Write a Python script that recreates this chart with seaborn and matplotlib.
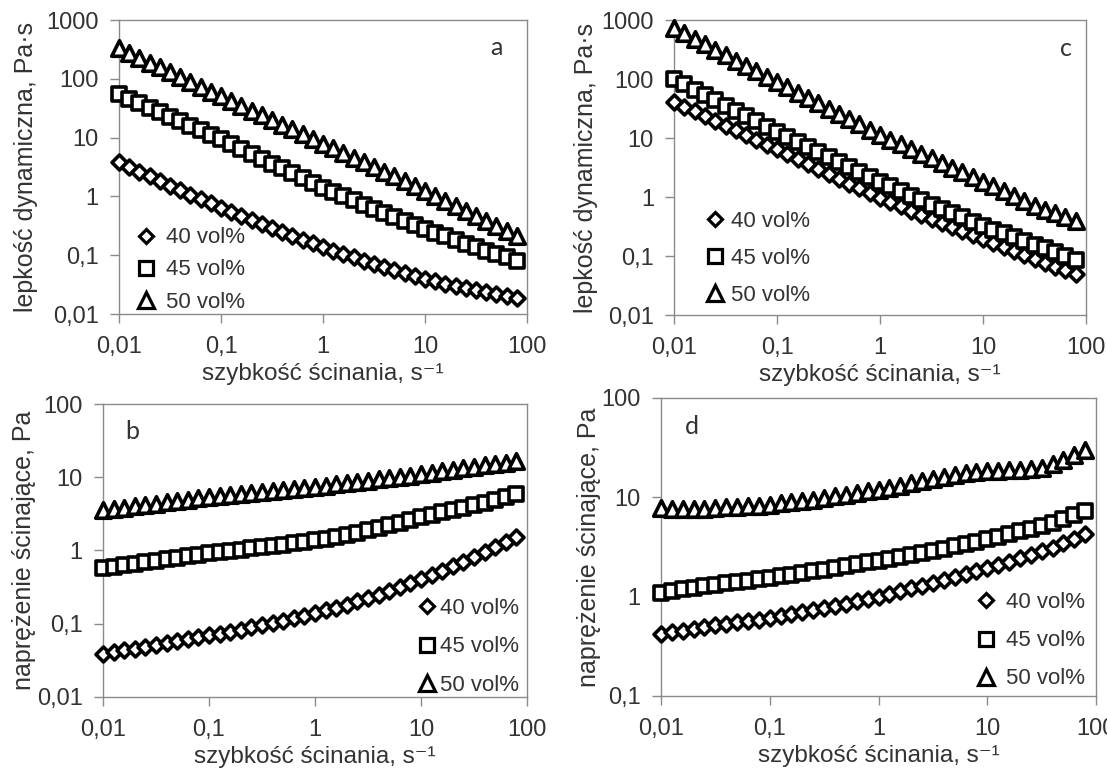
import matplotlib
matplotlib.use("Agg")
import matplotlib.pyplot as plt
import seaborn as sns
import pandas as pd
from matplotlib.lines import Line2D
from matplotlib.ticker import FixedLocator, FixedFormatter, NullLocator

# shear rate grid (s^-1), shared by all four panels
shear_rate = [0.01, 0.0126, 0.0158, 0.02, 0.0251, 0.0316, 0.0398, 0.0501, 0.0631, 0.0794,
              0.1, 0.126, 0.158, 0.2, 0.251, 0.316, 0.398, 0.501, 0.631, 0.794,
              1, 1.26, 1.58, 2, 2.51, 3.16, 3.98, 5.01, 6.31, 7.94,
              10, 12.6, 15.8, 20, 25.1, 31.6, 39.8, 50.1, 63.1, 79.4]

series_names = ["40 vol%", "45 vol%", "50 vol%"]

# (a) dynamic viscosity, Pa·s
visc_a_40 = [3.80, 3.16, 2.63, 2.19, 1.83, 1.53, 1.28, 1.07, 0.90, 0.76,
             0.645, 0.547, 0.465, 0.395, 0.337, 0.288, 0.248, 0.213, 0.184, 0.159,
             0.138, 0.120, 0.105, 0.092, 0.081, 0.0714, 0.0632, 0.0561, 0.0499, 0.0445,
             0.0398, 0.0361, 0.0330, 0.0302, 0.0278, 0.0256, 0.0237, 0.0220, 0.0204, 0.0191]
visc_a_45 = [55, 45.9, 38.4, 32.1, 26.9, 22.6, 19.0, 16.0, 13.4, 11.3,
             9.55, 7.85, 6.46, 5.32, 4.39, 3.62, 2.99, 2.48, 2.05, 1.70,
             1.41, 1.19, 1.01, 0.853, 0.724, 0.617, 0.525, 0.448, 0.383, 0.328,
             0.282, 0.243, 0.210, 0.182, 0.158, 0.138, 0.120, 0.105, 0.0925, 0.0813]
visc_a_50 = [331, 274, 227, 188, 156, 129, 107, 88.3, 73.1, 60.5,
             50.1, 41.7, 34.7, 28.8, 24.0, 20.0, 16.6, 13.8, 11.5, 9.55,
             7.94, 6.61, 5.50, 4.57, 3.80, 3.16, 2.63, 2.19, 1.82, 1.51,
             1.26, 1.03, 0.845, 0.692, 0.566, 0.465, 0.380, 0.311, 0.255, 0.209]

# (c) dynamic viscosity, Pa·s
visc_c_40 = [40.7, 33.9, 28.2, 23.4, 19.5, 16.2, 13.5, 11.2, 9.33, 7.76,
             6.46, 5.33, 4.41, 3.64, 3.01, 2.48, 2.05, 1.69, 1.40, 1.16,
             0.955, 0.813, 0.692, 0.589, 0.501, 0.427, 0.363, 0.309, 0.263, 0.224,
             0.191, 0.164, 0.141, 0.121, 0.104, 0.0895, 0.0771, 0.0662, 0.0570, 0.0490]
visc_c_45 = [100, 80.9, 65.6, 53.2, 43.3, 35.2, 28.6, 23.3, 19.1, 15.6,
             12.7, 10.4, 8.55, 7.01, 5.77, 4.74, 3.91, 3.22, 2.66, 2.20,
             1.82, 1.51, 1.26, 1.06, 0.887, 0.746, 0.630, 0.532, 0.451, 0.382,
             0.324, 0.280, 0.242, 0.209, 0.181, 0.156, 0.135, 0.117, 0.101, 0.0871]
visc_c_50 = [741, 596, 480, 387, 313, 253, 205, 166, 135, 109,
             89.1, 72.4, 58.9, 47.9, 38.9, 31.6, 25.7, 20.9, 17.0, 13.8,
             11.2, 9.35, 7.80, 6.50, 5.42, 4.52, 3.77, 3.14, 2.62, 2.18,
             1.82, 1.51, 1.25, 1.03, 0.855, 0.708, 0.610, 0.527, 0.457, 0.398]

# (b) shear stress, Pa
stress_b_40 = [0.0389, 0.0411, 0.0435, 0.0459, 0.0485, 0.0514, 0.0545, 0.0577, 0.0612, 0.0650,
               0.0692, 0.0735, 0.0782, 0.0834, 0.0891, 0.0955, 0.103, 0.110, 0.119, 0.129,
               0.140, 0.152, 0.166, 0.183, 0.202, 0.224, 0.249, 0.279, 0.314, 0.355,
               0.403, 0.459, 0.526, 0.605, 0.700, 0.813, 0.946, 1.10, 1.29, 1.51]
stress_b_45 = [0.575, 0.604, 0.634, 0.664, 0.697, 0.730, 0.762, 0.798, 0.834, 0.871,
               0.912, 0.948, 0.986, 1.03, 1.07, 1.11, 1.16, 1.20, 1.25, 1.31,
               1.37, 1.45, 1.53, 1.63, 1.75, 1.88, 2.04, 2.21, 2.41, 2.63,
               2.86, 3.09, 3.33, 3.57, 3.85, 4.13, 4.52, 4.95, 5.43, 5.97]
stress_b_50 = [3.55, 3.70, 3.85, 4.02, 4.19, 4.37, 4.55, 4.74, 4.94, 5.15,
               5.37, 5.55, 5.73, 5.92, 6.11, 6.31, 6.52, 6.73, 6.95, 7.18,
               7.41, 7.71, 8.02, 8.34, 8.67, 9.02, 9.38, 9.75, 10.1, 10.5,
               11.0, 11.5, 12.0, 12.6, 13.2, 13.8, 14.5, 15.1, 15.8, 16.6]

# (d) shear stress, Pa
stress_d_40 = [0.422, 0.439, 0.456, 0.474, 0.493, 0.513, 0.531, 0.550, 0.569, 0.587,
               0.607, 0.634, 0.664, 0.695, 0.729, 0.766, 0.805, 0.849, 0.895, 0.946,
               1.00, 1.06, 1.13, 1.21, 1.29, 1.38, 1.48, 1.58, 1.69, 1.81,
               1.94, 2.09, 2.25, 2.44, 2.64, 2.85, 3.12, 3.44, 3.84, 4.30]
stress_d_45 = [1.10, 1.14, 1.19, 1.23, 1.28, 1.32, 1.36, 1.41, 1.45, 1.50,
               1.55, 1.61, 1.67, 1.73, 1.80, 1.87, 1.95, 2.03, 2.12, 2.21,
               2.30, 2.40, 2.51, 2.62, 2.74, 2.86, 3.03, 3.21, 3.40, 3.59,
               3.79, 4.03, 4.28, 4.54, 4.83, 5.14, 5.57, 6.03, 6.58, 7.21]
stress_d_50 = [7.8, 7.7, 7.7, 7.7, 7.7, 7.8, 7.9, 8.0, 8.1, 8.2,
               8.41, 8.67, 8.95, 9.16, 9.45, 9.83, 10.2, 10.6, 11.0, 11.5,
               11.9, 12.5, 13.1, 13.8, 14.5, 15.3, 16.0, 16.8, 17.6, 18.0,
               18.2, 18.5, 18.7, 18.8, 19.1, 19.7, 21.8, 23.9, 26.7, 29.7]

x_ticks = [0.01, 0.1, 1, 10, 100]
x_tick_labels = ["0,01", "0,1", "1", "10", "100"]
visc_ticks = [0.01, 0.1, 1, 10, 100, 1000]
visc_tick_labels = ["0,01", "0,1", "1", "10", "100", "1000"]
stress_b_ticks = [0.01, 0.1, 1, 10, 100]
stress_b_tick_labels = ["0,01", "0,1", "1", "10", "100"]
stress_d_ticks = [0.1, 1, 10, 100]
stress_d_tick_labels = ["0,1", "1", "10", "100"]

x_label = "szybkość ścinania, s\u207b\u00b9"
visc_label = "lepkość dynamiczna, Pa\u00b7s"
stress_label = "naprężenie ścinające, Pa"

sns.set_theme(style="white")
plt.rcParams["font.family"] = ["Liberation Sans", "DejaVu Sans"]

TEXT = "#333333"
SPINE = "#8a8a8a"

markers = {"40 vol%": "D", "45 vol%": "s", "50 vol%": "^"}
marker_area = {"40 vol%": 58, "45 vol%": 112, "50 vol%": 125}
legend_ms = {"40 vol%": 7.4, "45 vol%": 10.5, "50 vol%": 11.0}

fig = plt.figure(figsize=(11.07, 7.71), dpi=100)

panels = [
    dict(rect=[0.1075, 0.5927, 0.3686, 0.3813], data=[visc_a_40, visc_a_45, visc_a_50],
         ylim=(0.01, 1000), yt=visc_ticks, ytl=visc_tick_labels, ylab=visc_label,
         letter="a", letter_xy=(0.925, 0.905), leg=(0.040, 0.15), leg_sp=0.50, leg_pad=0.40,
         ylab_x=-0.199),
    dict(rect=[0.6089, 0.5914, 0.3722, 0.3826], data=[visc_c_40, visc_c_45, visc_c_50],
         ylim=(0.01, 1000), yt=visc_ticks, ytl=visc_tick_labels, ylab=visc_label,
         letter="c", letter_xy=(0.950, 0.905), leg=(0.072, 0.193), leg_sp=0.72, leg_pad=0.22,
         ylab_x=-0.184),
    dict(rect=[0.0930, 0.0960, 0.3830, 0.3800], data=[stress_b_40, stress_b_45, stress_b_50],
         ylim=(0.01, 100), yt=stress_b_ticks, ytl=stress_b_tick_labels, ylab=stress_label,
         letter="b", letter_xy=(0.07, 0.905), leg=(0.738, 0.171), leg_sp=0.79, leg_pad=0.10,
         ylab_x=-0.158),
    dict(rect=[0.5971, 0.0973, 0.3930, 0.3865], data=[stress_d_40, stress_d_45, stress_d_50],
         ylim=(0.1, 100), yt=stress_d_ticks, ytl=stress_d_tick_labels, ylab=stress_label,
         letter="d", letter_xy=(0.07, 0.905), leg=(0.722, 0.185), leg_sp=0.77, leg_pad=0.40,
         ylab_x=-0.138),
]

for p in panels:
    ax = fig.add_axes(p["rect"])
    frames = []
    for name, vals in zip(series_names, p["data"]):
        frames.append(pd.DataFrame({"rate": shear_rate, "value": vals, "series": name}))
    df = pd.concat(frames, ignore_index=True)

    for name in series_names:
        sub = df[df["series"] == name]
        sns.scatterplot(data=sub, x="rate", y="value", marker=markers[name],
                        s=marker_area[name], color="white", edgecolor="black",
                        linewidth=2.6, legend=False, ax=ax, clip_on=False, zorder=3)

    ax.set_xscale("log")
    ax.set_yscale("log")
    ax.set_xlim(0.01, 100)
    ax.set_ylim(*p["ylim"])

    ax.xaxis.set_major_locator(FixedLocator(x_ticks))
    ax.xaxis.set_major_formatter(FixedFormatter(x_tick_labels))
    ax.xaxis.set_minor_locator(NullLocator())
    ax.yaxis.set_major_locator(FixedLocator(p["yt"]))
    ax.yaxis.set_major_formatter(FixedFormatter(p["ytl"]))
    ax.yaxis.set_minor_locator(NullLocator())

    ax.tick_params(axis="x", which="major", direction="out", length=6.5, width=1,
                   color=SPINE, labelsize=17, labelcolor=TEXT, pad=9, bottom=True)
    ax.tick_params(axis="y", which="major", direction="out", length=6.5, width=1,
                   color=SPINE, labelsize=17, labelcolor=TEXT, pad=8, left=True)

    for sp in ax.spines.values():
        sp.set_color(SPINE)
        sp.set_linewidth(1.0)
        sp.set_visible(True)

    ax.set_xlabel(x_label, fontsize=17.5, color=TEXT, labelpad=4)
    ax.set_ylabel(p["ylab"], fontsize=18, color=TEXT)
    ax.yaxis.set_label_coords(p["ylab_x"], 0.5)
    ax.grid(False)

    ax.text(p["letter_xy"][0], p["letter_xy"][1], p["letter"], transform=ax.transAxes,
            fontsize=18, color=TEXT, family=["Lato", "DejaVu Sans"], ha="center", va="center")

    handles = [Line2D([], [], linestyle="none", marker=markers[n], markersize=legend_ms[n],
                      markerfacecolor="white", markeredgecolor="black", markeredgewidth=2.3)
               for n in series_names]
    ax.legend(handles, series_names, loc="center left", bbox_to_anchor=p["leg"],
              frameon=False, fontsize=16, handlelength=1.0, handletextpad=p["leg_pad"],
              labelspacing=p["leg_sp"], borderpad=0, borderaxespad=0, labelcolor=TEXT)

fig.savefig("out.png", dpi=100)
